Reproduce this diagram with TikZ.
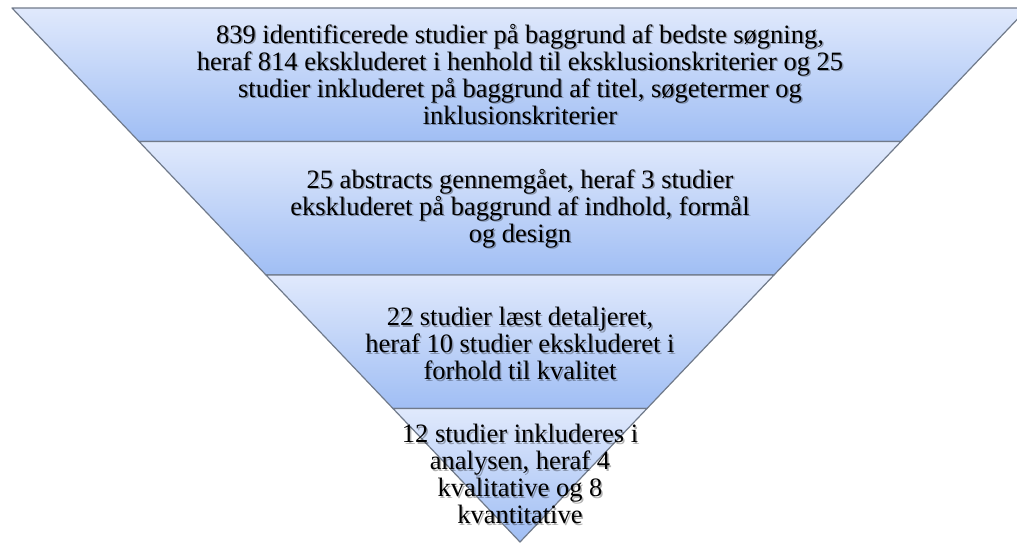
\documentclass[tikz,border=0pt]{standalone}
\usepackage{fontspec}
\setmainfont{Liberation Serif}
\usetikzlibrary{calc}
\definecolor{bandtop}{RGB}{224,233,252}
\definecolor{bandbot}{RGB}{160,190,244}
\definecolor{bandline}{RGB}{112,122,138}
\tikzset{band/.style={draw=bandline,line width=1.2pt,line join=round,top color=bandtop,bottom color=bandbot},
    bandtext/.style={font=\fontsize{26.5}{27}\selectfont,align=center,anchor=north,inner sep=0pt},
    bandshadow/.style={bandtext,text=black,opacity=0.3}}
\newcommand{\bandnode}[3]{%
    \node[bandshadow] (#1shadow) at (521.5,#2+1.5) {#3};
    \node[bandtext] (#1) at (520,#2) {#3};}

\begin{document}
\begin{tikzpicture}[x=1pt,y=-1pt]
        \useasboundingbox (0,0) rectangle (1017,542);
        \coordinate (tl) at (12,8);
        \coordinate (tr) at (1028,8);
        \coordinate (apex) at (520,542);
        % bands of the funnel
        \foreach \i [evaluate=\i as \j using \i+1] in {0,1,2,3}{
            \path[band] ($(tl)!\i/4!(apex)$) -- ($(tr)!\i/4!(apex)$) -- ($(tr)!\j/4!(apex)$) -- ($(tl)!\j/4!(apex)$) -- cycle;
        }
        \bandnode{found}{24}{839 identificerede studier på baggrund af bedste søgning,\\heraf 814 ekskluderet i henhold til eksklusionskriterier og 25\\studier inkluderet på baggrund af titel, søgetermer og\\inklusionskriterier}
        \bandnode{abstracts}{169}{25 abstracts gennemgået, heraf 3 studier\\ekskluderet på baggrund af indhold, formål\\og design}
        \bandnode{read}{307}{22 studier læst detaljeret,\\heraf 10 studier ekskluderet i\\forhold til kvalitet}
        \bandnode{included}{424}{12 studier inkluderes i\\analysen, heraf 4\\kvalitative og 8\\kvantitative}
    \end{tikzpicture}
\end{document}
